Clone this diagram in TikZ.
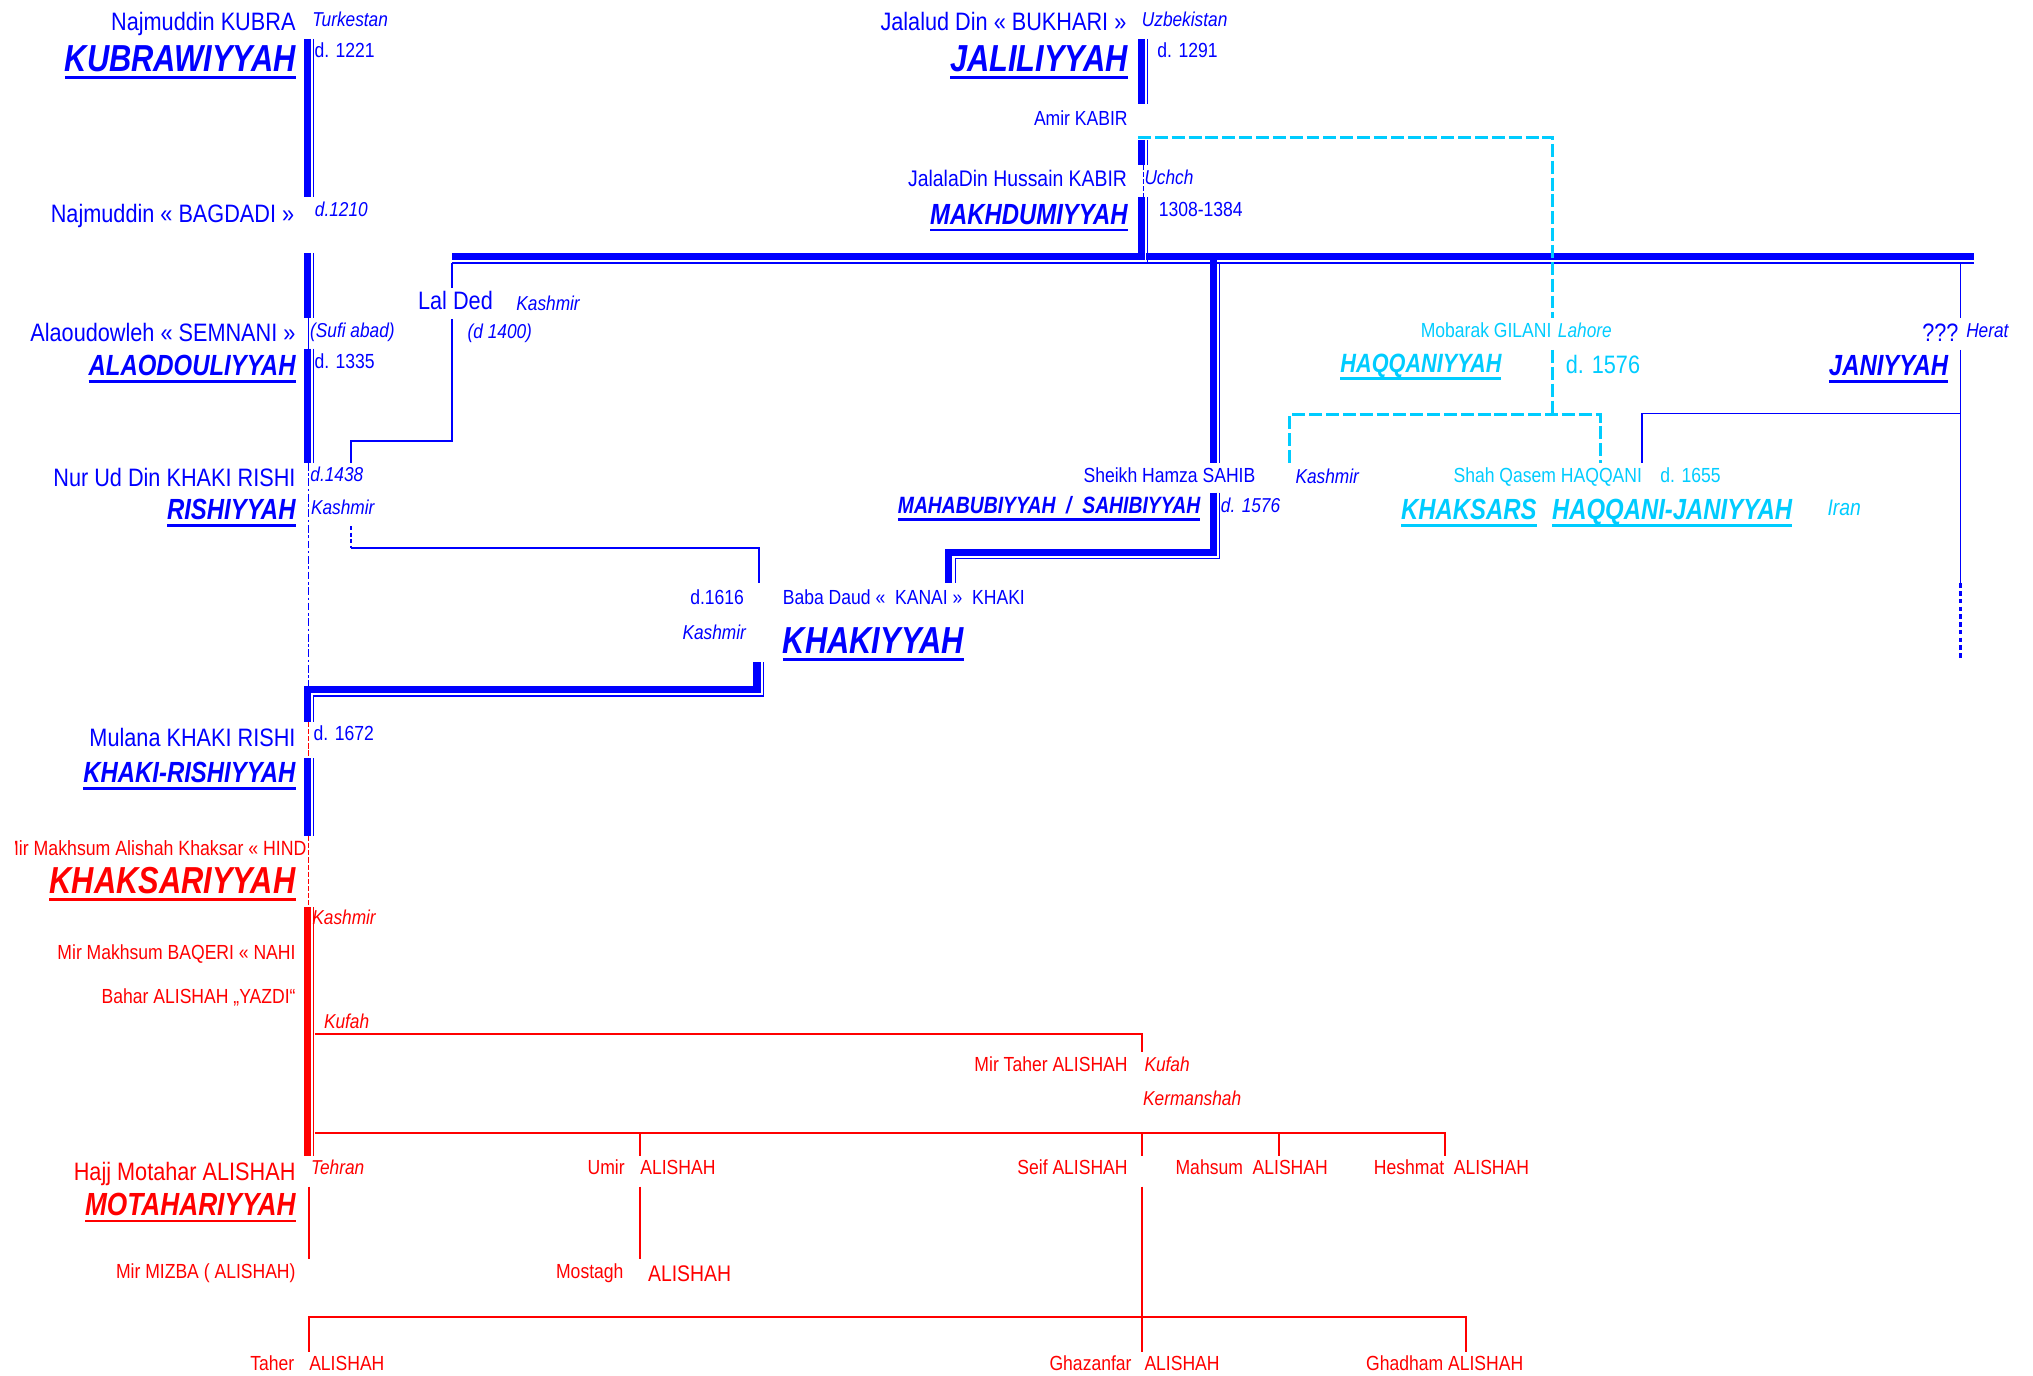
\documentclass[tikz,border=0pt]{standalone}
\usepackage{fontspec}
\setmainfont{Liberation Sans}[FakeStretch=0.86]
\newfontfamily\ttlfont{Liberation Sans}[FakeStretch=0.82]
\definecolor{sblue}{RGB}{0,0,255}
\definecolor{scyan}{RGB}{0,204,255}
\definecolor{sred}{RGB}{255,0,0}
\newcommand\setfs[1]{\fontsize{#1}{#1}\selectfont}
\tikzset{
  lbl/.style={inner sep=0pt, outer sep=0pt},
  lr/.style={lbl, anchor=base east},
  ll/.style={lbl, anchor=base west},
  fA/.style={font=\setfs{19.45}},
  fB/.style={font=\setfs{17.4}},
  fC/.style={font=\setfs{15.75}},
  fCi/.style={font=\setfs{15.5}\itshape},
  ttl/.style n args={2}{lbl, text=#1, font=\ttlfont\setfs{#2}\bfseries\itshape,
    append after command={([yshift=-4.5pt]\tikzlastnode.base west) edge[draw=#1, line width=2.2pt] ([yshift=-4.5pt]\tikzlastnode.base east)}},
  thk/.style={draw=#1, line width=5.5pt},
  thn/.style={draw=#1, line width=1.1pt},
  lnk/.style={draw=#1, line width=1.4pt},
  cdash/.style={draw=scyan, line width=2.6pt, dash pattern=on 10pt off 3pt},
}
\begin{document}
\begin{tikzpicture}[x=1pt, y=-1pt]
\fill[white] (0,0) rectangle (1568.5,1061);
\useasboundingbox (0,0) rectangle (1568.5,1061);

% ---------- main left lineage (blue, then red) ----------
\draw[thk=sblue] (237,30) -- (237,152);
\draw[thn=sblue] (242,30) -- (242,152);
\draw[thk=sblue] (237,195) -- (237,245);
\draw[thn=sblue] (242,195) -- (242,245);
\draw[sblue, line width=1pt] (238,245) -- (238,269);
\draw[thk=sblue] (237,269) -- (237,357);
\draw[thn=sblue] (242,269) -- (242,357);
\draw[sblue, line width=1.1pt, dash pattern=on 6pt off 2pt on 2pt off 2pt] (238,357) -- (238,530);
\draw[thk=sblue] (584,511) -- (584,532) -- (237,532) -- (237,557);
\draw[thn=sblue] (589,511) -- (589,537) -- (242,537) -- (242,557);
\draw[sred, line width=1pt, dash pattern=on 4pt off 1.5pt] (238,557) -- (238,585);
\draw[thk=sblue] (237,585) -- (237,645);
\draw[thn=sblue] (242,585) -- (242,645);
\draw[sred, line width=1pt, dash pattern=on 4pt off 1.5pt] (238,645) -- (238,700);
\draw[thk=sred] (237,700) -- (237,892);
\draw[thn=sred] (242,700) -- (242,892);

% ---------- main horizontal branch ----------
\draw[thk=sblue] (349,198) -- (1523,198);
\draw[thn=sblue] (349,203) -- (1523,203);

% Jaliliyyah / Makhdumiyyah line
\draw[thk=sblue] (880.5,30) -- (880.5,80);
\draw[thn=sblue] (885.2,30) -- (885.2,80);
\draw[thk=sblue] (880.5,108) -- (880.5,127);
\draw[thn=sblue] (885.2,108) -- (885.2,127);
\draw[sblue, line width=1pt, dash pattern=on 4pt off 1.5pt] (882,127) -- (882,152);
\draw[thk=sblue] (880.5,152) -- (880.5,198);
\draw[thn=sblue] (885.2,152) -- (885.2,203);
\draw[white, line width=0.9pt] (883.9,195.2) -- (883.9,200.8);

% Mahabubiyyah line down to Khakiyyah
\draw[thk=sblue] (936,198) -- (936,357);
\draw[thn=sblue] (941,203) -- (941,357);
\draw[thk=sblue] (936,380) -- (936,426) -- (732,426) -- (732,450);
\draw[thn=sblue] (941,380) -- (941,431) -- (737,431) -- (737,450);

% Lal Ded link
\draw[lnk=sblue] (349,203) -- (349,222);
\draw[lnk=sblue] (349,246) -- (349,340) -- (271,340) -- (271,357);
\draw[sblue, line width=1.8pt, dash pattern=on 3pt off 2pt] (271,406) -- (271,422.5);
\draw[lnk=sblue] (271,423) -- (585.5,423) -- (585.5,450);

% Janiyyah link
\draw[lnk=sblue] (1512.5,203) -- (1512.5,245);
\draw[lnk=sblue] (1512.5,270) -- (1512.5,319) -- (1267,319) -- (1267,357);
\draw[sblue, line width=1.1pt] (1512.5,319) -- (1512.5,450);
\draw[sblue, line width=2.6pt, dash pattern=on 3.5pt off 2.5pt] (1512.5,450) -- (1512.5,508);

% Haqqaniyyah (dashed)
\draw[cdash] (878,106) -- (1198,106) -- (1198,245);
\draw[cdash] (1198,270) -- (1198,320);
\draw[cdash] (995,357) -- (995,320) -- (1235,320) -- (1235,357);

% ---------- red branches ----------
\draw[lnk=sred] (243,797.5) -- (881,797.5) -- (881,812);
\draw[lnk=sred] (243,874) -- (1115,874) -- (1115,891.5);
\draw[lnk=sred] (494,874) -- (494,891.5);
\draw[lnk=sred] (881,874) -- (881,891.5);
\draw[lnk=sred] (986.5,874) -- (986.5,891.5);
\draw[lnk=sred] (881,915.5) -- (881,1043);
\draw[lnk=sred] (238.6,915.5) -- (238.6,971);
\draw[lnk=sred] (494,915.5) -- (494,971);
\draw[lnk=sred] (238.6,1043) -- (238.6,1016) -- (1131,1016) -- (1131,1043);

% ---------- labels: left column ----------
\node[lr, fA, text=sblue] (kubra) at (228,23.5) {Najmuddin KUBRA};
\node[ll, fCi, text=sblue] (turk) at (241,20.8) {Turkestan};
\node[lr, ttl={sblue}{29}] (kubT) at (228,55.5) {KUBRAWIYYAH};
\node[ll, fC, text=sblue] (d1221) at (242.7,44) {d. 1221};
\node[lr, fA, text=sblue] (bagdadi) at (227,171.4) {Najmuddin « BAGDADI »};
\node[ll, fCi, text=sblue] (d1210) at (243,167.4) {d.1210};
\node[lr, fA, text=sblue] (semnani) at (228,263.8) {Alaoudowleh « SEMNANI »};
\node[ll, fCi, text=sblue] (sufi) at (239.3,260.4) {(Sufi abad)};
\node[lr, ttl={sblue}{22.5}] (alaT) at (228,290) {ALAODOULIYYAH};
\node[ll, fC, text=sblue] (d1335) at (242.7,284.4) {d. 1335};
\node[ll, fA, text=sblue] (lalded) at (322.6,238.8) {Lal Ded};
\node[ll, fCi, text=sblue] (kashA) at (398.4,239.4) {Kashmir};
\node[ll, fCi, text=sblue] (d1400) at (360.8,261.2) {(d 1400)};
\node[lr, fA, text=sblue] (nurud) at (228,375.7) {Nur Ud Din KHAKI RISHI};
\node[ll, fCi, text=sblue] (d1438) at (239.5,371.7) {d.1438};
\node[lr, ttl={sblue}{22.5}] (rishT) at (228,401) {RISHIYYAH};
\node[ll, fCi, text=sblue] (kashB) at (240,396.7) {Kashmir};
\node[lr, fA, text=sblue] (mulana) at (228,576.2) {Mulana KHAKI RISHI};
\node[ll, fC, text=sblue] (d1672) at (242,571.4) {d. 1672};
\node[lr, ttl={sblue}{22.5}] (krT) at (228,603.7) {KHAKI-RISHIYYAH};

% ---------- labels: red lineage ----------
\begin{scope}
  \clip (12,630) rectangle (260,675);
  \node[lr, font=\setfs{15.9}, text=sred] (hind) at (236.5,660.2) {Mir Makhsum Alishah Khaksar « HIND};
\end{scope}
\node[lr, ttl={sred}{29}] (khaksT) at (228,689.5) {KHAKSARIYYAH};
\node[ll, fCi, text=sred] (kashR) at (241,713.4) {Kashmir};
\node[lr, fC, text=sred] (baqeri) at (228,740.4) {Mir Makhsum BAQERI « NAHI};
\node[lr, fC, text=sred] (bahar) at (228,774.1) {Bahar ALISHAH „YAZDI“};
\node[ll, fCi, text=sred] (kufA) at (250,793.4) {Kufah};
\node[lr, fC, text=sred] (mirtaher) at (870,827) {Mir Taher ALISHAH};
\node[ll, fCi, text=sred] (kufB) at (883,827) {Kufah};
\node[ll, fCi, text=sred] (kerman) at (882,853.1) {Kermanshah};
\node[lr, fA, text=sred] (motahar) at (228,910.4) {Hajj Motahar ALISHAH};
\node[ll, fCi, text=sred] (tehran) at (240,906.4) {Tehran};
\node[lr, ttl={sred}{24.7}] (motT) at (228,937.5) {MOTAHARIYYAH};
\node[lr, fC, text=sred] (umir) at (482,906.4) {Umir};
\node[ll, fC, text=sred] (umirA) at (494,906.4) {ALISHAH};
\node[lr, fC, text=sred] (seif) at (870,906.4) {Seif ALISHAH};
\node[ll, fC, text=sred] (mahsum) at (907,906.4) {Mahsum~~ALISHAH};
\node[ll, fC, text=sred] (heshmat) at (1060,906.4) {Heshmat~~ALISHAH};
\node[lr, fC, text=sred] (mizba) at (228,986.4) {Mir MIZBA ( ALISHAH)};
\node[lr, fC, text=sred] (mostagh) at (481,986.4) {Mostagh};
\node[ll, fB, text=sred] (mostA) at (500,989) {ALISHAH};
\node[lr, fC, text=sred] (taher) at (227,1057.4) {Taher};
\node[ll, fC, text=sred] (taherA) at (238.6,1057.4) {ALISHAH};
\node[lr, fC, text=sred] (ghaz) at (873,1057.4) {Ghazanfar};
\node[ll, fC, text=sred] (ghazA) at (883,1057.4) {ALISHAH};
\node[ll, fC, text=sred] (ghadham) at (1054,1057.4) {Ghadham ALISHAH};

% ---------- labels: upper middle ----------
\node[lr, fA, text=sblue] (bukhari) at (869,23.5) {Jalalud Din « BUKHARI »};
\node[ll, fCi, text=sblue] (uzbek) at (881,20.8) {Uzbekistan};
\node[lr, ttl={sblue}{29}] (jalT) at (870,55.5) {JALILIYYAH};
\node[ll, fC, text=sblue] (d1291) at (893,44) {d. 1291};
\node[lr, fC, text=sblue] (amir) at (870,96.7) {Amir KABIR};
\node[lr, fB, text=sblue] (hussain) at (869.5,144.1) {JalalaDin Hussain KABIR};
\node[ll, fCi, text=sblue] (uchch) at (883,142.2) {Uchch};
\node[lr, ttl={sblue}{22.5}] (makT) at (870,173) {MAKHDUMIYYAH};
\node[ll, fC, text=sblue] (d1308) at (894,167.4) {1308-1384};

% ---------- labels: middle ----------
\node[lr, fC, text=sblue] (hamza) at (968.5,372.4) {Sheikh Hamza SAHIB};
\node[lr, ttl={sblue}{18.2}] (mahT) at (926,396.5) {MAHABUBIYYAH~~/~~SAHIBIYYAH};
\node[ll, fCi, text=sblue] (d1576a) at (942,395.4) {d. 1576};
\node[lr, fC, text=sblue] (d1616) at (574,466) {d.1616};
\node[lr, fCi, text=sblue] (kashC) at (575.5,493) {Kashmir};
\node[ll, fC, text=sblue] (babadaud) at (604,466) {Baba Daud «~~KANAI »~~KHAKI};
\node[ll, ttl={sblue}{29}] (khakT) at (604,504) {KHAKIYYAH};

% ---------- labels: right ----------
\node[lr, fC, text=scyan] (gilani) at (1197,260.4) {Mobarak GILANI};
\node[ll, fCi, text=scyan] (lahore) at (1202,260.4) {Lahore};
\node[lr, ttl={scyan}{20.4}] (haqT) at (1158.4,287.5) {HAQQANIYYAH};
\node[ll, fA, text=scyan] (d1576b) at (1208,288.3) {d. 1576};
\node[lr, fA, text=sblue] (qqq) at (1511,263.8) {???};
\node[ll, fCi, text=sblue] (herat) at (1517,260.4) {Herat};
\node[lr, ttl={sblue}{22.5}] (janT) at (1503,290) {JANIYYAH};
\node[ll, fCi, text=sblue] (kashD) at (999.5,373) {Kashmir};
\node[ll, fC, text=scyan] (qasem) at (1121.5,372.4) {Shah Qasem HAQQANI};
\node[ll, fC, text=scyan] (d1655) at (1281,372.4) {d. 1655};
\node[ll, ttl={scyan}{22.5}] (khaksarsT) at (1081,401) {KHAKSARS};
\node[ll, ttl={scyan}{22.5}] (hjT) at (1197.4,401) {HAQQANI-JANIYYAH};
\node[ll, font=\setfs{17.4}\itshape, text=scyan] (iran) at (1410,398) {Iran};
\end{tikzpicture}
\end{document}
